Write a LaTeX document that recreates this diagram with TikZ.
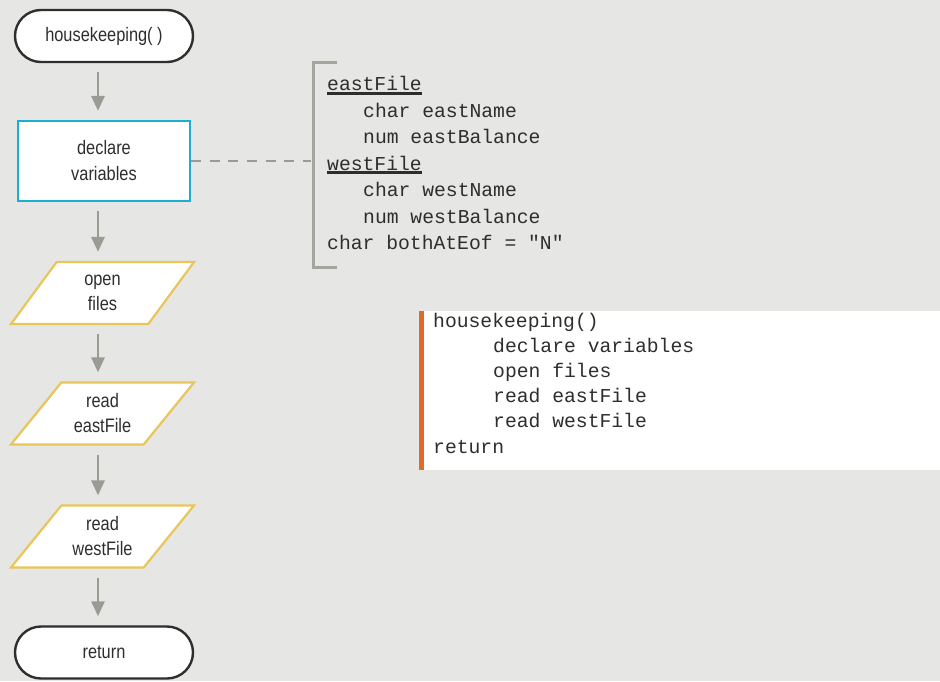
\documentclass[tikz,border=0pt]{standalone}
\usepackage{fontspec}
\newfontfamily\flowfont{Liberation Sans}[FakeStretch=0.84]
\newfontfamily\codefont{Liberation Mono}
\usetikzlibrary{positioning,shapes.geometric,arrows.meta}
\definecolor{bggray}{HTML}{E6E6E4}
\definecolor{boxcyan}{HTML}{1AAFD0}
\definecolor{ioyellow}{HTML}{E8C65A}
\definecolor{arrowgray}{HTML}{9B9B93}
\definecolor{barorange}{HTML}{E06C2A}
\definecolor{inkgray}{HTML}{2E2E2E}
\newcommand{\fileul}[1]{\setbox0\hbox{#1}\rlap{\rule[-4.4pt]{\wd0}{3pt}}\box0}

\begin{document}
\begin{tikzpicture}[x=1pt,y=-1pt,
    terminal/.style={draw=inkgray,line width=2.4pt,fill=white,rounded corners=26pt,minimum width=178pt,minimum height=52pt,font=\flowfont\fontsize{19.5}{25}\selectfont,text=inkgray},
    process/.style={draw=boxcyan,line width=2.2pt,fill=white,minimum width=172pt,minimum height=80pt,align=center,font=\flowfont\fontsize{19.5}{26}\selectfont,text=inkgray},
    iobox/.style={trapezium,trapezium stretches body,trapezium left angle=38,trapezium right angle=142,draw=ioyellow,line width=2.2pt,fill=white,minimum width=183pt,minimum height=62pt,align=center,inner sep=0pt,font=\flowfont\fontsize{19.5}{25}\selectfont,text=inkgray},
    flow/.style={draw=arrowgray,line width=2.8pt,-{Triangle[width=13pt,length=15pt]},shorten <=9pt,shorten >=9pt},
    link/.style={draw=arrowgray,line width=2.6pt,dash pattern=on 10pt off 8.6pt},
    bracket/.style={draw=arrowgray!90,line width=3pt},
    code/.style={inner sep=0pt,font=\codefont\fontsize{19.7}{25}\selectfont,text=inkgray}]

\fill[bggray] (0,0) rectangle (940,681);
\useasboundingbox (0,0) rectangle (940,681);

\node[terminal] (start) at (104,36) {housekeeping( )};
\node[process] (declare) at (104,161) {declare\\variables};
\node[iobox] (open) at (102.5,293) {open\\files};
\node[iobox] (readeast) at (102.5,413.5) {read\\eastFile};
\node[iobox] (readwest) at (102.5,536.5) {read\\westFile};
\node[terminal] (return) at (104,652.5) {return};

\coordinate (spine) at (98,0);
\draw[flow] (start.south -| spine) -- (declare.north -| spine);
\draw[flow] (declare.south -| spine) -- (open.north -| spine);
\draw[flow] (open.south -| spine) -- (readeast.north -| spine);
\draw[flow] (readeast.south -| spine) -- (readwest.north -| spine);
\draw[flow] (readwest.south -| spine) -- (return.north -| spine);

\coordinate (brk) at (311,161);
\draw[link] (declare.east) -- (brk);
\draw[bracket] (337,62) -- (313,62) -- (313,267) -- (337,267);

\foreach \xo/\txt [count=\i] in {0/\fileul{eastFile}, 36/char eastName, 36/num eastBalance, 0/\fileul{westFile}, 36/char westName, 36/num westBalance, 0/char bothAtEof = "N"}
  \node[code,anchor=base west] (decl\i) at (327+\xo,90.5+26.5*\i-26.5) {\txt};

\node[fill=white,minimum width=521pt,minimum height=159pt,inner sep=0pt,anchor=north west] (pseudo) at (419,311) {};
\fill[barorange] (pseudo.north west) rectangle ++(5,159);

\foreach \xo/\txt [count=\i] in {0/housekeeping(), 60/declare variables, 60/open files, 60/read eastFile, 60/read westFile, 0/return}
  \node[code,anchor=base west] (line\i) at (433+\xo,327+25.2*\i-25.2) {\txt};

\end{tikzpicture}
\end{document}
